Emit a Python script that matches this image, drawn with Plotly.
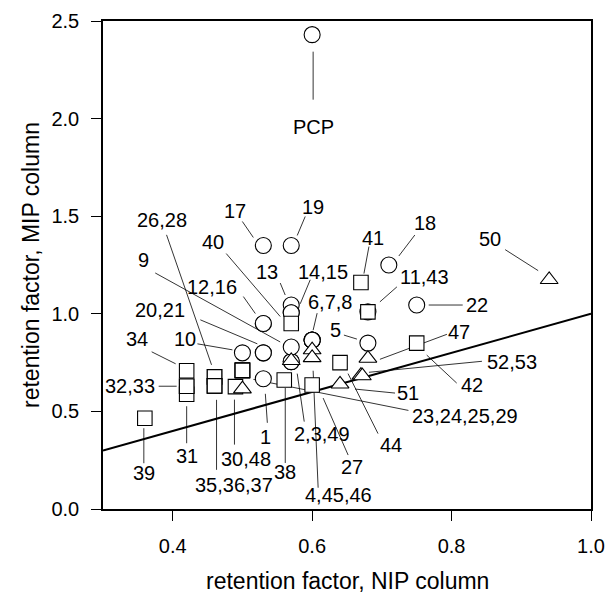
import plotly.graph_objects as go

# ---------------- data: retention factors (x = NIP column, y = MIP column) ----------------
circle_ids = ["1", "2", "3", "4", "5", "6", "7", "8", "9", "10", "11", "12", "13", "14", "15",
              "16", "17", "18", "19", "20", "21", "22", "PCP"]
circle_nip = [0.53, 0.57, 0.57, 0.60, 0.68, 0.60, 0.60, 0.60, 0.57, 0.50, 0.68, 0.53, 0.57, 0.57, 0.57,
              0.53, 0.53, 0.71, 0.57, 0.53, 0.53, 0.75, 0.60]
circle_mip = [0.667, 0.755, 0.755, 0.865, 0.85, 0.865, 0.865, 0.865, 0.83, 0.80, 1.01, 0.95, 1.045, 1.005, 1.005,
              0.95, 1.35, 1.25, 1.35, 0.80, 0.80, 1.045, 2.43]

square_ids = ["23", "24", "25", "26", "27", "28", "29", "30", "31", "32", "33", "34", "35", "36", "37",
              "38", "39", "40", "41", "42", "43", "44"]
square_nip = [0.50, 0.50, 0.50, 0.46, 0.60, 0.46, 0.50, 0.49, 0.42, 0.42, 0.42, 0.42, 0.46, 0.46, 0.46,
              0.56, 0.36, 0.57, 0.67, 0.75, 0.68, 0.64]
square_mip = [0.71, 0.71, 0.71, 0.677, 0.635, 0.677, 0.71, 0.627, 0.588, 0.629, 0.629, 0.708, 0.631, 0.631, 0.631,
              0.661, 0.465, 0.95, 1.16, 0.85, 1.01, 0.75]

triangle_ids = ["45", "46", "47", "48", "49", "50", "51", "52", "53"]
triangle_nip = [0.60, 0.60, 0.68, 0.50, 0.57, 0.94, 0.64, 0.67, 0.672]
triangle_mip = [0.815, 0.775, 0.772, 0.615, 0.76, 1.175, 0.64, 0.685, 0.682]

# 1:1 reference line
ref_line = [0.3, 1.0]

x_ticks = [0.4, 0.6, 0.8, 1.0]
y_ticks = [0.0, 0.5, 1.0, 1.5, 2.0, 2.5]

x_title = "retention factor, NIP column"
y_title = "retention factor, MIP column"

# ---------------- label layout (pixel offsets relative to the labelled point) ----------------
# (text, series, id, text dx, text dy, line start dx, dy, line end dx, dy) ; dy positive = down
labels = [
    ("PCP", "c", "PCP", 1, 92, 1, 65, 1, 17),
    ("17", "c", "17", -28, -34, -21, -24, -10, -8),
    ("19", "c", "19", 22, -38, 14, -29, 6, -10),
    ("26,28", "s", "26", -53, -157, -48, -142, -3, -12),
    ("40", "s", "40", -78, -82, -65, -70, -11, -7),
    ("9", "c", "9", -148, -87, -136, -74, -11, -5),
    ("13", "c", "13", -24, -33, -11, -22, -6, -10),
    ("14,15", "c", "14", 32, -41, 19, -33, 9, -9),
    ("12,16", "c", "12", -51, -37, -20, -27, -8, -10),
    ("20,21", "c", "20", -103, -43, -63, -33, -6, -9),
    ("6,7,8", "c", "6", 18, -38, 5, -27, 1, -10),
    ("34", "s", "34", -50, -32, -35, -19, -11, -7),
    ("10", "c", "10", -57, -14, -45, -9, -10, -3),
    ("5", "c", "5", -32, -13, -24, -8, -11, -4),
    ("41", "s", "41", 12, -45, 8, -36, 3, -9),
    ("18", "c", "18", 36, -42, 26, -30, 10, -9),
    ("11,43", "s", "43", 57, -35, 29, -25, 12, -10),
    ("50", "t", "50", -59, -41, -44, -30, -11, -9),
    ("22", "c", "22", 60, 0, 46, 0, 12, 0),
    ("47", "t", "47", 91, -26, 79, -24, 12, 1),
    ("52,53", "t", "52", 151, -13, 121, -14, 8, -3),
    ("42", "s", "42", 55, 42, 40, 40, 10, 12),
    ("51", "t", "51", 68, 9, 55, 9, 15, 5),
    ("23,24,25,29", "s", "23", 223, 46, 166, 40, 11, 9),
    ("44", "s", "44", 51, 82, 38, 71, 8, 11),
    ("27", "s", "27", 40, 82, 36, 70, 11, 13),
    ("4,45,46", "t", "46", 26, 137, 6, 130, 1, 13),
    ("2,3,49", "c", "2", 31, 72, 13, 60, 6, 12),
    ("32,33", "s", "32", -57, 0, -28, 0, -10, 0),
    ("31", "s", "31", 0, 62, 0, 49, 0, 12),
    ("39", "s", "39", -1, 55, -1, 45, -1, 10),
    ("35,36,37", "s", "35", 19, 99, 2, 84, 2, 14),
    ("30,48", "s", "30", 11, 72, -1, 58, -1, 13),
    ("1", "c", "1", 2, 58, 4, 44, 2, 15),
    ("38", "s", "38", 1, 92, 1, 83, 1, 8),
]

series = {
    "c": (circle_ids, circle_nip, circle_mip),
    "s": (square_ids, square_nip, square_mip),
    "t": (triangle_ids, triangle_nip, triangle_mip),
}

FONT = "Liberation Sans, Arial, sans-serif"
LABEL_SIZE = 20
W, H = 607, 598
ML, MR, MT, MB = 103, 16, 21, 89
PW, PH = W - ML - MR, H - MT - MB

fig = go.Figure()

fig.add_trace(go.Scatter(x=ref_line, y=ref_line, mode="lines",
                         line=dict(color="black", width=2), hoverinfo="skip", showlegend=False))


def marker_trace(xs, ys, names, symbol, size):
    return go.Scatter(x=xs, y=ys, mode="markers", text=names, showlegend=False,
                      marker=dict(symbol=symbol, size=size, color="white",
                                  line=dict(color="black", width=1.1)))


fig.add_trace(marker_trace(circle_nip, circle_mip, circle_ids, "circle", 16))
fig.add_trace(marker_trace(square_nip, square_mip, square_ids, "square", 14.5))
fig.add_trace(marker_trace(triangle_nip, triangle_mip, triangle_ids, "triangle-up", 15.5))

shapes = []
annotations = []
for text, ser, pid, tdx, tdy, sdx, sdy, edx, edy in labels:
    ids, xs, ys = series[ser]
    i = ids.index(pid)
    xv, yv = xs[i], ys[i]
    shapes.append(dict(type="line", layer="below", xref="x", yref="y",
                       xsizemode="pixel", ysizemode="pixel", xanchor=xv, yanchor=yv,
                       x0=sdx, x1=edx, y0=-sdy, y1=-edy,
                       line=dict(color="black", width=0.8)))
    annotations.append(dict(x=xv, y=yv, xref="x", yref="y", text=text, showarrow=False,
                            xshift=tdx, yshift=-tdy, xanchor="center", yanchor="middle",
                            font=dict(family=FONT, size=LABEL_SIZE, color="black")))

# axis titles placed as paper annotations
annotations.append(dict(x=0.5, y=-(581 - (H - MB)) / PH, xref="paper", yref="paper",
                        text=x_title, showarrow=False, xanchor="center", yanchor="middle",
                        font=dict(family=FONT, size=23, color="black")))
annotations.append(dict(x=-(ML - 31) / PW, y=0.5, xref="paper", yref="paper",
                        text=y_title, showarrow=False, textangle=-90,
                        xanchor="center", yanchor="middle",
                        font=dict(family=FONT, size=23, color="black")))

fig.update_layout(
    width=W, height=H,
    margin=dict(l=ML, r=MR, t=MT, b=MB, autoexpand=False),
    paper_bgcolor="white", plot_bgcolor="white",
    font=dict(family=FONT, size=20, color="black"),
    shapes=shapes, annotations=annotations,
)
fig.update_xaxes(range=[0.3, 1.0], tickvals=x_ticks, tickformat=".1f",
                 ticks="outside", ticklen=10, tickwidth=1.2, tickcolor="black",
                 showline=True, linewidth=1.5, linecolor="black", mirror=True,
                 showgrid=False, zeroline=False, ticklabeloverflow="allow",
                 ticklabelstandoff=8, tickfont=dict(size=20))
fig.update_yaxes(range=[0, 2.5], tickvals=y_ticks, tickformat=".1f",
                 ticks="outside", ticklen=10, tickwidth=1.2, tickcolor="black",
                 showline=True, linewidth=1.5, linecolor="black", mirror=True,
                 showgrid=False, zeroline=False, ticklabeloverflow="allow",
                 ticklabelstandoff=8, tickfont=dict(size=20))

fig.write_html("out.html")
